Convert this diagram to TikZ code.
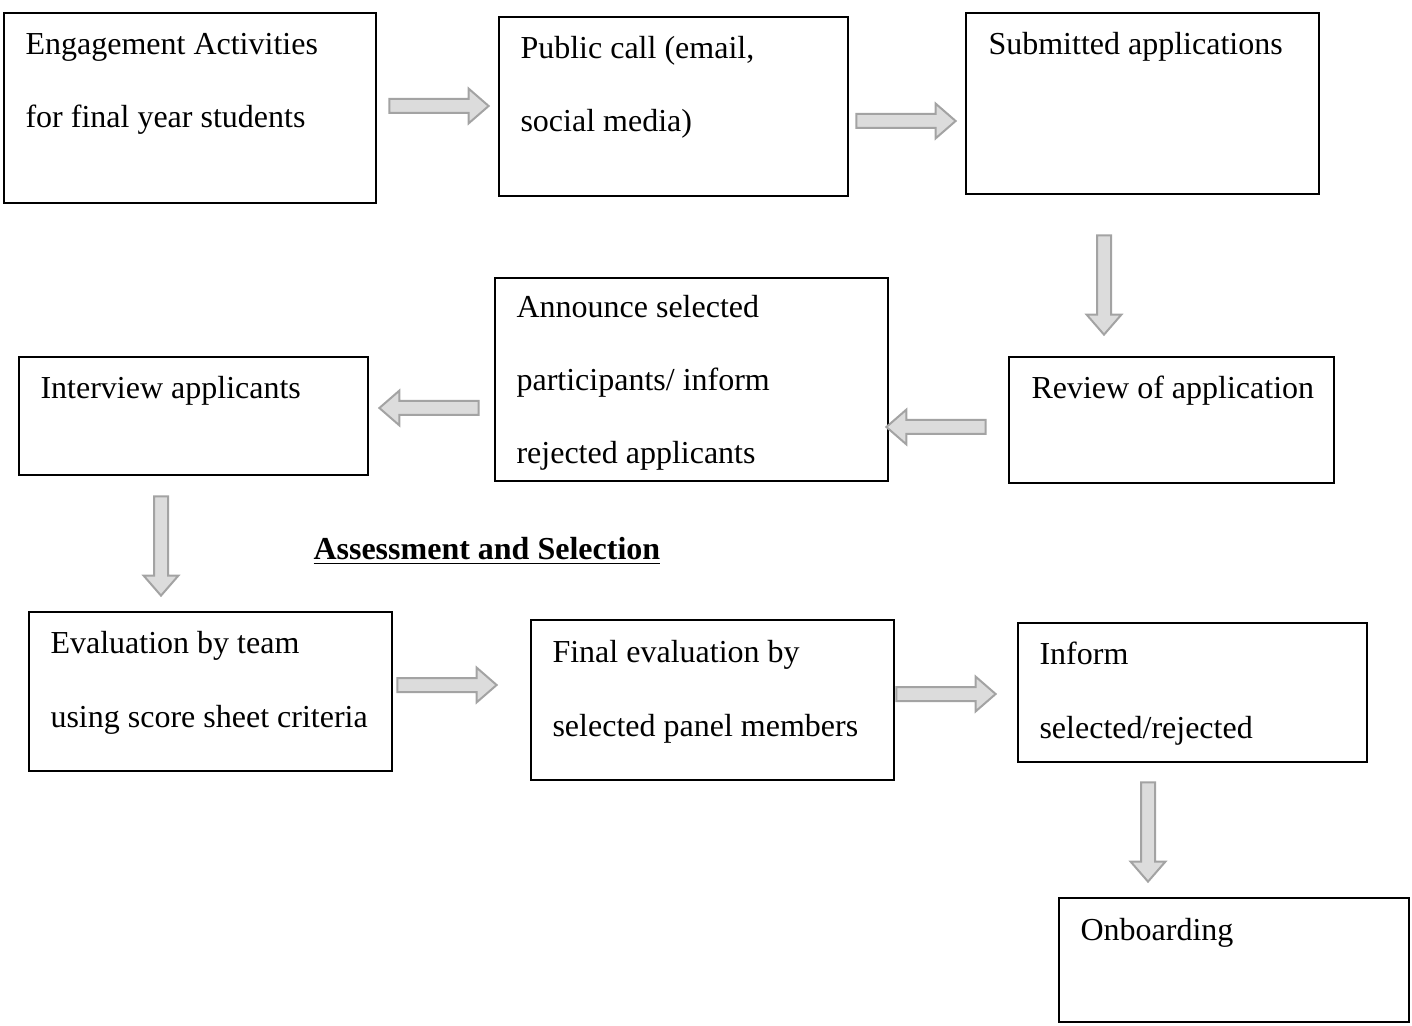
\documentclass[tikz,border=0pt]{standalone}
\usepackage{fontspec}
\setmainfont{Liberation Serif}
\usetikzlibrary{positioning, calc}
\usetikzlibrary{fit}
\usetikzlibrary{shapes.arrows}
\definecolor{frecciafill}{HTML}{DCDCDC}
\definecolor{frecciabordo}{HTML}{A3A3A3}

\begin{document}
\begin{tikzpicture}[x=0.375pt, y=-0.375pt,
  box/.style={draw, line width=0.75pt, inner sep=0pt},
  testo/.style={anchor=base west, inner sep=0pt, align=left,
    font=\fontsize{12}{27.4}\selectfont},
  freccia/.style={single arrow, draw=frecciabordo, fill=frecciafill,
    line width=0.75pt, inner sep=2.25pt, single arrow head extend=3.9pt,
    single arrow tip angle=82, minimum height=37.2pt}]

  \useasboundingbox (0,0) rectangle (1412,1026);

  % Riquadri
  \node[box, fit={(4,13) (376,203)}] (eng) {};
  \node[box, fit={(499,17) (848,196)}] (pub) {};
  \node[box, fit={(966,13) (1319,194)}] (sub) {};
  \node[box, fit={(495,278) (888,481)}] (ann) {};
  \node[box, fit={(19,357) (368,475)}] (int) {};
  \node[box, fit={(1009,357) (1334,483)}] (rev) {};
  \node[box, fit={(29,612) (392,771)}] (eva) {};
  \node[box, fit={(531,620) (894,780)}] (fin) {};
  \node[box, fit={(1018,623) (1367,762)}] (inf) {};
  \node[box, fit={(1059,898) (1409,1022)}] (onb) {};

  % Testi (base = ultima riga)
  \node[testo] (engt) at (25,128) {Engagement Activities\\for final year students};
  \node[testo] (pubt) at (520,132) {Public call (email,\\social media)};
  \node[testo] (subt) at (988,55) {Submitted applications};
  \node[testo] (annt) at (516,464) {Announce selected\\participants/ inform\\rejected applicants};
  \node[testo] (intt) at (40,399) {Interview applicants};
  \node[testo] (revt) at (1031,399) {Review of application};
  \node[testo] (evat) at (50,727) {Evaluation by team\\using score sheet criteria};
  \node[testo] (fint) at (552,736) {Final evaluation by\\selected panel members};
  \node[testo] (inft) at (1039,738) {Inform\\selected/rejected};
  \node[testo] (onbt) at (1080,940) {Onboarding};

  % Titolo
  \node[testo] (titolo) at (313,559) {\underline{\textbf{Assessment and Selection}}};

  % Frecce
  \node[freccia] (f1) at (435,106) {};
  \node[freccia] (f2) at (902,121) {};
  \node[freccia, shape border rotate=270] (f3) at (1104,281) {};
  \node[freccia, shape border rotate=180] (f4) at (940,427) {};
  \node[freccia, shape border rotate=180] (f5) at (433,408) {};
  \node[freccia, shape border rotate=270] (f6) at (161,542) {};
  \node[freccia] (f7) at (443,685) {};
  \node[freccia] (f8) at (942,694) {};
  \node[freccia, shape border rotate=270] (f9) at (1148,828) {};
\end{tikzpicture}
\end{document}
